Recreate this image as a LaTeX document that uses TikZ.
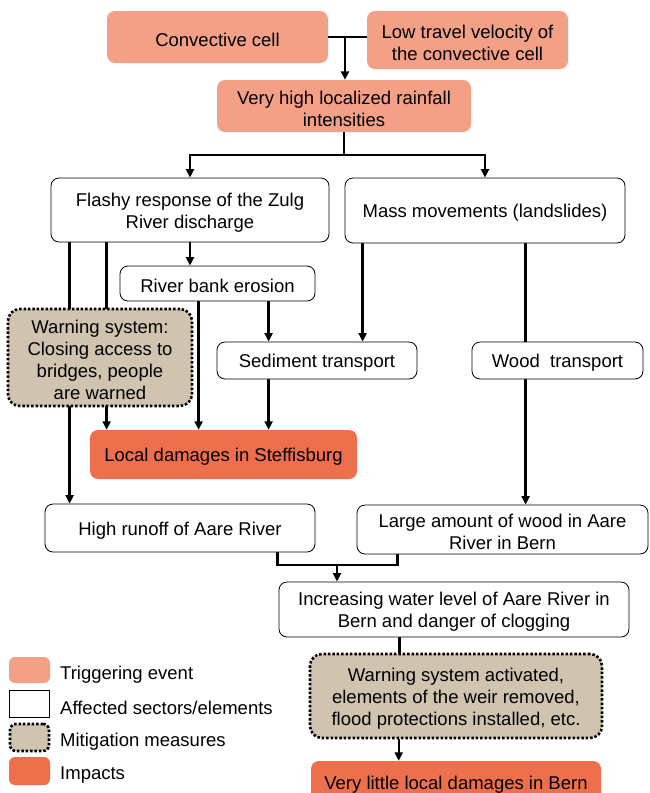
\documentclass[tikz,border=0pt]{standalone}
\usepackage{fontspec}
\setmainfont{Liberation Sans}
\usetikzlibrary{arrows.meta,calc}
\pgfdeclarelayer{bg}
\pgfsetlayers{bg,main}
\definecolor{trig}{RGB}{244,160,135}
\definecolor{imp}{RGB}{238,111,75}
\definecolor{mitig}{RGB}{208,196,176}
% box with its text set slightly below the box centre
\newcommand\flowbox[5]{%
  \node[#1, #4] (#2) at #3 {};
  \node[txt] (#2-t) at ([yshift=-2.5pt]#2.center) {#5};
}
\begin{document}
\begin{tikzpicture}[x=1pt,y=-1pt,
 base/.style={rounded corners=8pt, inner sep=0pt},
 txt/.style={align=center, inner sep=0pt, font=\fontsize{18.5}{22}\selectfont},
 trigbox/.style={base, fill=trig},
 impbox/.style={base, fill=imp},
 secbox/.style={base, draw, line width=0.8pt, fill=white},
 mitbox/.style={base, rounded corners=12pt, draw, fill=mitig, line width=2.6pt, dash pattern=on 2.5pt off 1.9pt},
 lbl/.style={txt, anchor=west},
 conn/.style={line width=2.4pt},
 arr/.style={conn, -{Triangle[length=8.5pt,width=8pt]}},
]
\useasboundingbox (0,0) rectangle (649,793);
\clip (0,0) rectangle (649,793);

% boxes
\flowbox{trigbox}{conv}{(217.5,37)}{minimum width=221pt, minimum height=52pt}{Convective cell}
\flowbox{trigbox}{low}{(467.5,40)}{minimum width=201pt, minimum height=58pt}{Low travel velocity of\\the convective cell}
\flowbox{trigbox}{rain}{(344,106)}{minimum width=254pt, minimum height=52pt}{Very high localized rainfall\\intensities}
\flowbox{secbox}{flashy}{(190,210)}{minimum width=278pt, minimum height=64pt}{Flashy response of the Zulg\\River discharge}
\flowbox{secbox}{mass}{(485,210.5)}{minimum width=280pt, minimum height=65pt}{Mass movements (landslides)}
\flowbox{secbox}{bank}{(217.5,283.5)}{minimum width=195pt, minimum height=35pt}{River bank erosion}
\flowbox{mitbox}{warn1}{(100,357.5)}{minimum width=184pt, minimum height=97pt}{Warning system:\\Closing access to\\bridges, people\\are warned}
\flowbox{secbox}{sed}{(317,360.5)}{minimum width=200pt, minimum height=37pt}{Sediment transport}
\flowbox{secbox}{wood}{(557.5,360.5)}{minimum width=171pt, minimum height=37pt}{Wood\ \ transport}
\flowbox{impbox}{local}{(223.5,454.5)}{minimum width=267pt, minimum height=49pt}{Local damages in Steffisburg}
\flowbox{secbox}{high}{(180,528)}{minimum width=270pt, minimum height=48pt}{High runoff of Aare River}
\flowbox{secbox}{large}{(502.5,529.5)}{minimum width=291pt, minimum height=49pt}{Large amount of wood in Aare\\River in Bern}
\flowbox{secbox}{incr}{(454,609.5)}{minimum width=350pt, minimum height=55pt}{Increasing water level of Aare River in\\Bern and danger of clogging}
\flowbox{mitbox}{warn2}{(456,696)}{minimum width=292pt, minimum height=84pt}{Warning system activated,\\elements of the weir removed,\\flood protections installed, etc.}
\flowbox{impbox}{little}{(456,782)}{minimum width=290pt, minimum height=42pt}{Very little local damages in Bern}

% legend
\node[trigbox, rounded corners=6pt, minimum width=41pt, minimum height=26pt] (lg1) at (29.5,670) {};
\node[secbox, rounded corners=0pt, minimum width=40pt, minimum height=27pt] (lg2) at (29.5,703.5) {};
\node[mitbox, rounded corners=6pt, minimum width=39pt, minimum height=27pt] (lg3) at (29.5,737.5) {};
\node[impbox, rounded corners=6pt, minimum width=41pt, minimum height=28pt] (lg4) at (29.5,771) {};
\node[lbl] (t1) at (60,674.5) {Triggering event};
\node[lbl] (t2) at (60,707.5) {Affected sectors/elements};
\node[lbl] (t3) at (60,741.5) {Mitigation measures};
\node[lbl] (t4) at (60,775.5) {Impacts};

\begin{pgfonlayer}{bg}
\fill[white] (0,0) rectangle (649,793);
\coordinate (j1) at (345,37);
\draw[conn] (conv.east |- j1) -- (low.west |- j1);
\draw[arr] (j1) -- (j1 |- rain.north);
\coordinate (j2) at (344,155);
\draw[conn] (rain.south -| j2) -- (j2);
\draw[arr] (j2) -| (flashy.north);
\draw[arr] (j2) -| (mass.north);
\draw[arr] (flashy.south) -- (flashy.south |- bank.north);
\coordinate (f1) at ([xshift=19pt]flashy.south west);
\coordinate (f2) at ([xshift=56pt]flashy.south west);
\draw[arr] (f1) -- (f1 |- high.north);
\draw[arr] (f2) -- (f2 |- local.north);
\coordinate (b1) at ([xshift=79pt]bank.south west);
\coordinate (b2) at ([xshift=149pt]bank.south west);
\draw[arr] (b1) -- (b1 |- local.north);
\draw[arr] (b2) -- (b2 |- sed.north);
\coordinate (m1) at ([xshift=18pt]mass.south west);
\coordinate (m2) at ([xshift=181pt]mass.south west);
\draw[arr] (m1) -- (m1 |- sed.north);
\draw[arr] (m2) -- (m2 |- large.north);
\coordinate (s1) at ([xshift=52pt]sed.south west);
\draw[arr] (s1) -- (s1 |- local.north);
\coordinate (h1) at ([xshift=233pt]high.south west);
\coordinate (l1) at ([xshift=41pt]large.south west);
\coordinate (j3) at (337,565);
\draw[conn] (h1) |- (j3) -| (l1);
\draw[arr] (j3) -- (j3 |- incr.north);
\coordinate (i1) at ([xshift=121pt]incr.south west);
\draw[conn] (i1) -- (i1 |- warn2.north);
\coordinate (w1) at ([xshift=90pt]warn2.south west);
\draw[arr] (w1) -- (w1 |- little.north);
\end{pgfonlayer}
\end{tikzpicture}
\end{document}
